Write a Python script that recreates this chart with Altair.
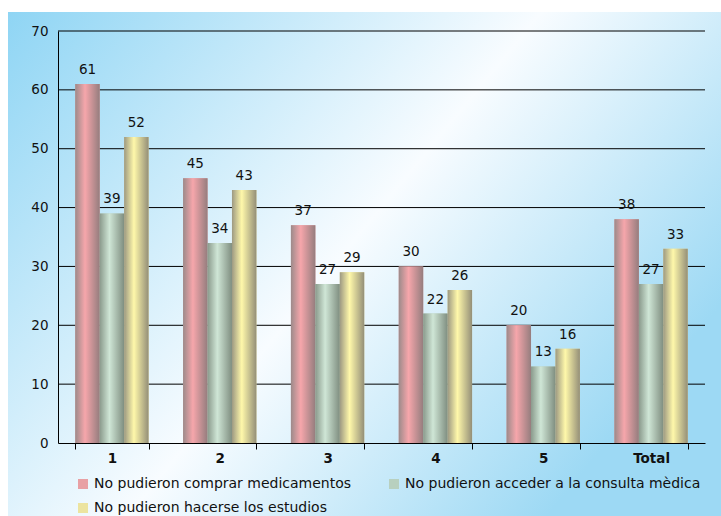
import altair as alt
import pandas as pd

# Categories and series values
categories = ["1", "2", "3", "4", "5", "Total"]
series_names = [
    "No pudieron comprar medicamentos",
    "No pudieron acceder a la consulta mèdica",
    "No pudieron hacerse los estudios",
]
medicamentos = [61, 45, 37, 30, 20, 38]
consulta = [39, 34, 27, 22, 13, 27]
estudios = [52, 43, 29, 26, 16, 33]
y_ticks = [0, 10, 20, 30, 40, 50, 60, 70]

values_by_series = [medicamentos, consulta, estudios]
rows = []
for name, vals in zip(series_names, values_by_series):
    for cat, v in zip(categories, vals):
        rows.append({"cat": cat, "series": name, "value": v})
df = pd.DataFrame(rows)

W, H = 647, 412
FONT = "DejaVu Sans"


def cylinder(edge_l, mid, edge_r):
    # horizontal shading that gives the bars a rounded look
    return alt.LinearGradient(
        gradient="linear",
        x1=0, x2=1, y1=0, y2=0,
        stops=[
            alt.GradientStop(offset=0, color=edge_l),
            alt.GradientStop(offset=0.4, color=mid),
            alt.GradientStop(offset=1, color=edge_r),
        ],
    )


bar_fills = [
    cylinder("#9c8a8a", "#f6a6ab", "#957d7e"),
    cylinder("#8a9a8c", "#cfe6d6", "#7f8e80"),
    cylinder("#9d9982", "#fff8aa", "#948f78"),
]
solid = ["#e8a0a4", "#b8d0bf", "#ece4a0"]

panel = alt.LinearGradient(
    gradient="linear",
    x1=0, y1=0, x2=1, y2=0.58,
    stops=[
        alt.GradientStop(offset=0, color="#8fd5f4"),
        alt.GradientStop(offset=0.56, color="#f8fcff"),
        alt.GradientStop(offset=1, color="#9dd9f4"),
    ],
)

background = alt.Chart(pd.DataFrame({"k": [0]})).mark_rect(fill=panel).encode(
    x=alt.value(-50), x2=alt.value(663), y=alt.value(-19), y2=alt.value(485)
)

x_enc = alt.X(
    "cat:N",
    sort=categories,
    title=None,
    scale=alt.Scale(paddingInner=0.32, paddingOuter=0.16),
    axis=alt.Axis(
        labelAngle=0,
        labelFont=FONT,
        labelFontSize=13.5,
        labelFontWeight="bold",
        labelColor="#111111",
        labelPadding=2,
        tickBand="extent",
        tickSize=6,
        tickColor="#000000",
        domainColor="#000000",
        grid=False,
        zindex=2,
    ),
)
xo_enc = alt.XOffset("series:N", sort=series_names, scale=alt.Scale(domain=series_names))
y_scale = alt.Scale(domain=[0, 70])
y_enc = alt.Y(
    "value:Q",
    title=None,
    scale=y_scale,
    axis=alt.Axis(
        values=y_ticks,
        labelFont=FONT,
        labelFontSize=13.5,
        labelColor="#111111",
        labelPadding=10,
        ticks=False,
        domainColor="#000000",
        grid=False,
        zindex=2,
    ),
)

# horizontal gridlines, drawn behind the bars
grid = alt.Chart(pd.DataFrame({"v": y_ticks[1:]})).mark_rule(
    color="#000000", strokeWidth=1
).encode(y=alt.Y("v:Q", scale=y_scale))

base_bars = alt.Chart(df).mark_bar().encode(
    x=x_enc,
    xOffset=xo_enc,
    y=y_enc,
    color=alt.Color(
        "series:N",
        sort=series_names,
        scale=alt.Scale(domain=series_names, range=solid),
        legend=alt.Legend(
            orient="none",
            legendX=18,
            legendY=446,
            direction="horizontal",
            columns=2,
            title=None,
            symbolType="square",
            symbolSize=100,
            symbolStrokeWidth=0,
            labelFont=FONT,
            labelFontSize=14,
            labelColor="#111111",
            labelLimit=0,
            labelOffset=4,
            rowPadding=10,
            columnPadding=35,
        ),
    ),
)

shaded = [
    alt.Chart(df)
    .transform_filter(alt.datum.series == name)
    .mark_bar(fill=fill)
    .encode(x=x_enc, xOffset=xo_enc, y=y_enc)
    for name, fill in zip(series_names, bar_fills)
]

labels = alt.Chart(df).mark_text(
    dy=-10, baseline="alphabetic", font=FONT, fontSize=13.5, color="#111111"
).encode(x=x_enc, xOffset=xo_enc, y=y_enc, text=alt.Text("value:Q"))

chart = (
    alt.layer(background, grid, base_bars, *shaded, labels)
    .properties(
        width=W,
        height=H,
        autosize=alt.AutoSizeParams(type="none"),
        padding={"left": 58, "top": 31, "right": 16, "bottom": 73},
        background="#ffffff",
    )
    .configure_view(stroke=None)
)

chart.save("out.html", embed_options={"renderer": "svg", "actions": False})
